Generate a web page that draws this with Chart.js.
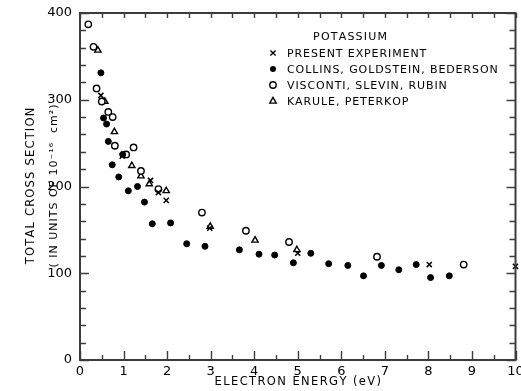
<!DOCTYPE html>
<html>
<head>
<meta charset="utf-8">
<script src="https://cdn.jsdelivr.net/npm/chart.js@4/dist/chart.umd.min.js"></script>
</head>
<body style="margin:0;background:#fff">
<canvas id="c" width="521" height="391"></canvas>
<script>
// ---- data (electron energy eV, cross section 1e-16 cm^2) ----
const presentE = [0.48, 0.97, 1.62, 1.80, 1.98, 2.98, 5.00, 8.02, 10.0];
const presentQ = [305, 235, 207, 193, 184, 152, 123, 110, 108];

const collinsE = [0.48, 0.54, 0.61, 0.65, 0.74, 0.89, 0.98, 1.11, 1.32, 1.48, 1.66, 2.08, 2.45, 2.87, 3.66, 4.11, 4.47, 4.90, 5.30, 5.71, 6.15, 6.51, 6.92, 7.32, 7.72, 8.05, 8.48];
const collinsQ = [331, 279, 272, 252, 225, 211, 237, 195, 200, 182, 157, 158, 134, 131, 127, 122, 121, 112, 123, 111, 109, 97, 109, 104, 110, 95, 97];

const viscontiE = [0.19, 0.31, 0.38, 0.50, 0.65, 0.75, 0.80, 1.06, 1.23, 1.40, 1.80, 2.80, 3.81, 4.80, 6.82, 8.81];
const viscontiQ = [387, 361, 313, 298, 286, 280, 247, 237, 245, 218, 197, 170, 149, 136, 119, 110];

const karuleE = [0.41, 0.57, 0.79, 1.19, 1.40, 1.59, 1.98, 2.99, 4.02, 4.98];
const karuleQ = [357, 298, 263, 224, 212, 203, 195, 154, 138, 127];

const xTicks = [0,1,2,3,4,5,6,7,8,9,10];
const yTicks = [0,100,200,300,400];
const seriesNames = ["PRESENT EXPERIMENT","COLLINS, GOLDSTEIN, BEDERSON","VISCONTI, SLEVIN, RUBIN","KARULE, PETERKOP"];
const titleText = "POTASSIUM";
const xTitle = "ELECTRON ENERGY (eV)";
const yTitle1 = "TOTAL CROSS SECTION";
const yTitle2 = "( IN UNITS OF 10\u207B\u00B9\u2076  cm\u00B2)";

const pts = (E, Q) => E.map((e, i) => ({x: e, y: Q[i]}));
const FONT = '"DejaVu Sans", sans-serif';
const INK = '#3c3c3c';

function symbol(ctx, kind, x, y) {
  ctx.save();
  ctx.strokeStyle = '#000000'; ctx.fillStyle = '#000000'; ctx.lineWidth = 1.4;
  if (kind === 0) { const r = 2.6; ctx.beginPath(); ctx.moveTo(x-r,y-r); ctx.lineTo(x+r,y+r); ctx.moveTo(x+r,y-r); ctx.lineTo(x-r,y+r); ctx.stroke(); }
  else if (kind === 1) { ctx.beginPath(); ctx.arc(x,y,3,0,Math.PI*2); ctx.fill(); }
  else if (kind === 2) { ctx.fillStyle='#fff'; ctx.beginPath(); ctx.arc(x,y,3.2,0,Math.PI*2); ctx.fill(); ctx.stroke(); }
  else { ctx.fillStyle='#fff'; const r=3.6; ctx.beginPath(); ctx.moveTo(x,y-r); ctx.lineTo(x+r*0.9,y+r*0.6); ctx.lineTo(x-r*0.9,y+r*0.6); ctx.closePath(); ctx.fill(); ctx.stroke(); }
  ctx.restore();
}

// letter-spaced text drawn glyph by glyph
function spacedText(ctx, text, x, y, spacing, align) {
  const chars = Array.from(text);
  const widths = chars.map(c => ctx.measureText(c).width);
  const total = widths.reduce((s, w) => s + w, 0) + spacing * (chars.length - 1);
  let cx = align === 'center' ? x - total / 2 : (align === 'right' ? x - total : x);
  ctx.save();
  ctx.textAlign = 'left';
  chars.forEach((c, i) => { ctx.fillText(c, cx, y); cx += widths[i] + spacing; });
  ctx.restore();
}

const boxPlugin = {
  id: 'boxPlugin',
  afterDraw(chart) {
    const ctx = chart.ctx;
    const xs = chart.scales.x, ys = chart.scales.y;
    const L = xs.getPixelForValue(0), R = xs.getPixelForValue(10);
    const T = ys.getPixelForValue(400), B = ys.getPixelForValue(0);

    ctx.save();
    ctx.fillStyle = '#000000';
    ctx.textBaseline = 'middle';
    ctx.font = '11px ' + FONT;
    spacedText(ctx, titleText, 350, 37, 1.2, 'center');
    const rows = [54, 70, 86, 102];
    seriesNames.forEach((n, i) => {
      symbol(ctx, i, 273, rows[i] - 1);
      spacedText(ctx, n, 287, rows[i], 0.9, 'left');
    });
    ctx.font = '11.5px ' + FONT;
    spacedText(ctx, xTitle, (L + R) / 2, 382, 1.4, 'center');
    ctx.save();
    ctx.translate(31, 186);
    ctx.rotate(-Math.PI / 2);
    ctx.font = '11.5px ' + FONT;
    spacedText(ctx, yTitle1, 0, 0, 1.2, 'center');
    ctx.font = '11px ' + FONT;
    spacedText(ctx, yTitle2, 0, 23, 1.0, 'center');
    ctx.restore();

    // frame and inward ticks
    ctx.strokeStyle = INK;
    ctx.lineWidth = 2;
    ctx.beginPath();
    ctx.moveTo(L, T); ctx.lineTo(R, T); ctx.lineTo(R, B); ctx.lineTo(L, B); ctx.closePath();
    ctx.stroke();
    ctx.lineWidth = 1.4;
    ctx.beginPath();
    for (let k = 0; k <= 20; k++) {
      const px = Math.round(xs.getPixelForValue(k * 0.5)) + 0.5;
      const major = k % 2 === 0;
      ctx.moveTo(px, B); ctx.lineTo(px, B - (major ? 9 : 5));
      ctx.moveTo(px, T); ctx.lineTo(px, T + 5);
    }
    for (let k = 0; k <= 20; k++) {
      const v = k * 20;
      const py = Math.round(ys.getPixelForValue(v)) + 0.5;
      const len = v % 100 === 0 ? 9 : 6;
      ctx.moveTo(L, py); ctx.lineTo(L + len, py);
      ctx.moveTo(R, py); ctx.lineTo(R - len, py);
    }
    ctx.stroke();
    ctx.restore();
  }
};

new Chart(document.getElementById('c'), {
  type: 'scatter',
  data: {
    datasets: [
      {label: seriesNames[0], data: pts(presentE, presentQ), pointStyle: 'crossRot', pointRadius: 3.6, borderColor: '#000', borderWidth: 1.5, clip: false},
      {label: seriesNames[1], data: pts(collinsE, collinsQ), pointStyle: 'circle', pointRadius: 3, backgroundColor: '#000', borderColor: '#000', borderWidth: 1, clip: false},
      {label: seriesNames[2], data: pts(viscontiE, viscontiQ), pointStyle: 'circle', pointRadius: 3.2, backgroundColor: '#fff', borderColor: '#000', borderWidth: 1.4, clip: false},
      {label: seriesNames[3], data: pts(karuleE, karuleQ), pointStyle: 'triangle', pointRadius: 3.6, backgroundColor: '#fff', borderColor: '#000', borderWidth: 1.4, clip: false}
    ]
  },
  options: {
    responsive: false,
    animation: false,
    layout: {padding: {left: 0, right: 5, top: 13, bottom: 0}},
    plugins: {legend: {display: false}, tooltip: {enabled: false}},
    scales: {
      x: {
        type: 'linear', min: 0, max: 10,
        afterBuildTicks: s => { s.ticks = xTicks.map(v => ({value: v})); },
        afterFit: s => { s.height = 31; s.paddingLeft = 0; s.paddingRight = 0; },
        grid: {display: false, drawTicks: false},
        border: {display: true, color: INK, width: 2},
        ticks: {color: '#000', font: {family: FONT, size: 13}, padding: 4, maxRotation: 0, autoSkip: false}
      },
      y: {
        type: 'linear', min: 0, max: 400,
        afterBuildTicks: s => { s.ticks = yTicks.map(v => ({value: v})); },
        afterFit: s => { s.width = 80; s.paddingTop = 0; s.paddingBottom = 0; },
        grid: {display: false, drawTicks: false},
        border: {display: true, color: INK, width: 2},
        ticks: {color: '#000', font: {family: FONT, size: 13}, padding: 8, autoSkip: false}
      }
    }
  },
  plugins: [boxPlugin]
});
</script>
</body>
</html>
